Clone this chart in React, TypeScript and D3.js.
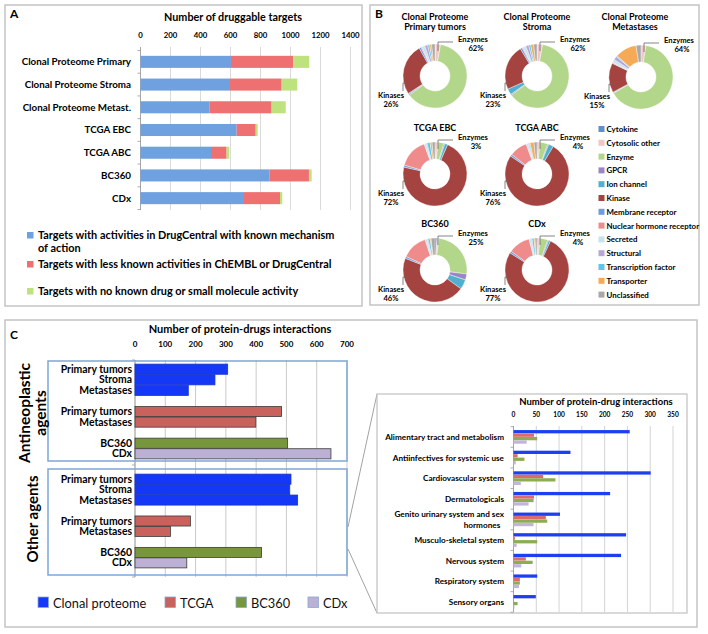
import React from "react";
import * as d3 from "d3";

const FONT = "Lato, 'Open Sans', 'DejaVu Sans', sans-serif";

// ---------- Panel A data ----------
const targetCategories = [
  "Clonal Proteome Primary",
  "Clonal Proteome Stroma",
  "Clonal Proteome Metast.",
  "TCGA EBC",
  "TCGA ABC",
  "BC360",
  "CDx",
];
const knownMechanism = [603, 597, 459, 641, 470, 859, 690];
const lessKnownActivity = [416, 344, 415, 127, 104, 264, 240];
const noKnownActivity = [106, 104, 94, 13, 18, 18, 15];
const targetTicks = [0, 200, 400, 600, 800, 1000, 1200, 1400];
const targetLegend = [
  "Targets with activities in DrugCentral with known mechanism of action",
  "Targets with less known activities in ChEMBL or DrugCentral",
  "Targets with no known drug or small molecule activity",
];

// ---------- Panel B data ----------
const targetClasses = [
  "Cytokine",
  "Cytosolic other",
  "Enzyme",
  "GPCR",
  "Ion channel",
  "Kinase",
  "Membrane receptor",
  "Nuclear hormone receptor",
  "Secreted",
  "Structural",
  "Transcription factor",
  "Transporter",
  "Unclassified",
];
const pieTitles = [
  "Clonal Proteome|Primary tumors",
  "Clonal Proteome|Stroma",
  "Clonal Proteome|Metastases",
  "TCGA EBC",
  "TCGA ABC",
  "BC360",
  "CDx",
];
const pieClonalPrimary = [0.3, 2.5, 62, 0.5, 0.5, 26, 1, 0.5, 1.5, 1.5, 1, 1, 1.7];
const pieClonalStroma = [0.3, 2.5, 62, 0.5, 3, 23, 1, 0.5, 1.5, 1.5, 1, 1.5, 1.7];
const pieClonalMetastases = [0, 2.5, 64, 0.3, 0.3, 15, 0.3, 0.3, 1.5, 1.8, 0.5, 11, 2.5];
const pieTcgaEbc = [0.5, 1, 3, 0.5, 1.5, 72, 1, 15, 1, 0.5, 1.5, 1, 1.5];
const pieTcgaAbc = [0.5, 1, 4, 0.5, 2.5, 76, 1, 9, 1, 0.5, 0.5, 2, 1.5];
const pieBc360 = [1, 1, 25, 3, 5, 46, 1, 13, 1, 0.5, 1, 0.5, 2];
const pieCdx = [0.5, 1, 4, 0.5, 1, 77, 1, 11, 1, 0.5, 1, 0.5, 1];

// ---------- Panel C data ----------
const interactionTicks = [0, 100, 200, 300, 400, 500, 600, 700];
const rowLabels = ["Primary tumors", "Stroma", "Metastases", "", "Primary tumors", "Metastases", "", "BC360", "CDx"];
const rowSources = ["clonal", "clonal", "clonal", "", "tcga", "tcga", "", "bc360", "cdx"];
const antineoplasticValues = [306, 264, 176, 0, 484, 399, 0, 504, 647];
const otherAgentValues = [515, 511, 537, 0, 183, 117, 0, 418, 171];
const sourceNames = ["Clonal proteome", "TCGA", "BC360", "CDx"];

const atcCategories = [
  "Alimentary tract and metabolism",
  "Antiinfectives for systemic use",
  "Cardiovascular system",
  "Dermatologicals",
  "Genito urinary system and sex hormones",
  "Musculo-skeletal system",
  "Nervous system",
  "Respiratory system",
  "Sensory organs",
];
const atcClonal = [255, 125, 301, 212, 102, 247, 236, 52, 49];
const atcTcga = [45, 9, 65, 45, 71, 3, 27, 14, 0];
const atcBc360 = [52, 24, 92, 44, 74, 52, 42, 14, 9];
const atcCdx = [29, 5, 16, 33, 44, 7, 17, 12, 2];
const atcTicks = [0, 50, 100, 150, 200, 250, 300, 350];

// ---------- styles ----------
const aColors = ["#6fa0e0", "#ee7070", "#bde27e"];
const classColors = [
  "#5e8fcf",
  "#f2c6c6",
  "#b3d78a",
  "#9a86c4",
  "#4fb1cf",
  "#a4433f",
  "#6b9de0",
  "#ef8b8b",
  "#c4e3ec",
  "#b7a6d8",
  "#5fc6e6",
  "#f7aa55",
  "#a8a8a8",
];
const sourceFill: Record<string, string> = {
  clonal: "#1438f5",
  tcga: "#c9615c",
  bc360: "#78973c",
  cdx: "#bdb0d5",
};
const sourceStroke: Record<string, string> = {
  clonal: "#1a35c8",
  tcga: "#3c3c3c",
  bc360: "#3c3c3c",
  cdx: "#3c3c3c",
};
const insetFill = ["#1c3ff2", "#dc6b6b", "#8dad52", "#c3b5da"];

function wrap(text: string, max: number): string[] {
  const words = text.split(" ");
  const lines: string[] = [];
  let cur = "";
  for (const w of words) {
    const t = cur ? cur + " " + w : w;
    if (t.length > max && cur) {
      lines.push(cur);
      cur = w;
    } else cur = t;
  }
  if (cur) lines.push(cur);
  return lines;
}

function PanelA() {
  const x = d3.scaleLinear().domain([0, 1400]).range([140.5, 350.5]);
  const y = d3
    .scaleBand<string>()
    .domain(targetCategories)
    .range([50.5, 209.5])
    .paddingInner(0.47)
    .paddingOuter(0.235);
  const rows = targetCategories.map((c, i) => ({
    cat: c,
    known: knownMechanism[i],
    less: lessKnownActivity[i],
    none: noKnownActivity[i],
  }));
  const series = d3.stack<any>().keys(["known", "less", "none"])(rows);
  const step = y.step();
  return (
    <g>
      <rect x={5} y={5} width={357} height={301} fill="white" stroke="#c4c4c4" strokeWidth={1.5} />
      <text x={10} y={18} fontSize={12} fontWeight="bold" fontFamily={FONT}>A</text>
      <text x={233} y={21} textAnchor="middle" fontSize={10.8} fontWeight="bold" fontFamily={FONT}>
        Number of druggable targets
      </text>
      {targetTicks.map((t) => (
        <g key={t}>
          <line x1={x(t)} x2={x(t)} y1={47} y2={210} stroke="#d0d0d0" strokeWidth={0.8} />
          <text x={x(t)} y={38} textAnchor="middle" fontSize={7.8} fontWeight="bold" fontFamily={FONT}>
            {t}
          </text>
        </g>
      ))}
      <line x1={x(0)} x2={x(0)} y1={47} y2={210} stroke="#999" strokeWidth={0.8} />
      {targetCategories.concat([""]).map((c, i) => {
        const yy = 50.5 + i * step;
        return <line key={"tk" + i} x1={x(0) - 3} x2={x(0)} y1={yy} y2={yy} stroke="#999" strokeWidth={0.8} />;
      })}
      {series.map((s, si) =>
        s.map((d, i) => (
          <rect
            key={si + "-" + i}
            x={x(d[0])}
            y={y(targetCategories[i])}
            width={Math.max(0, x(d[1]) - x(d[0]))}
            height={y.bandwidth()}
            fill={aColors[si]}
          />
        ))
      )}
      {targetCategories.map((c) => (
        <text
          key={c}
          x={131}
          y={(y(c) as number) + y.bandwidth() / 2 + 3.4}
          textAnchor="end"
          fontSize={9.8}
          fontWeight="bold"
          fontFamily={FONT}
        >
          {c}
        </text>
      ))}
      {targetLegend.map((l, i) => {
        const lines = wrap(l, 60);
        const y0 = [239, 268, 295][i];
        return (
          <g key={l}>
            <rect x={27} y={y0 - 7} width={6.5} height={6.5} fill={aColors[i]} />
            {lines.map((ln, j) => (
              <text key={j} x={38} y={y0 + j * 12.5} fontSize={10.9} fontWeight="bold" fontFamily={FONT}>
                {ln}
              </text>
            ))}
          </g>
        );
      })}
    </g>
  );
}

function PanelB() {
  const pieData = [
    pieClonalPrimary,
    pieClonalStroma,
    pieClonalMetastases,
    pieTcgaEbc,
    pieTcgaAbc,
    pieBc360,
    pieCdx,
  ];
  const centers = [
    [435, 76],
    [537, 76],
    [641, 77],
    [435, 174],
    [537, 174],
    [435, 270],
    [537, 270],
  ];
  const titleY = [20, 20, 20, 131, 131, 227, 227];
  const pie = d3.pie<number>().sort(null).value((d) => d);
  const arc = d3.arc<d3.PieArcDatum<number>>().innerRadius(15).outerRadius(32);
  const enzIdx = targetClasses.indexOf("Enzyme");
  const kinIdx = targetClasses.indexOf("Kinase");
  return (
    <g>
      <rect x={370} y={5} width={329} height={300} fill="white" stroke="#c4c4c4" strokeWidth={1.5} />
      <text x={375} y={18} fontSize={12} fontWeight="bold" fontFamily={FONT}>B</text>
      {pieData.map((vals, pi) => {
        const [cx, cy] = centers[pi];
        const arcs = pie(vals);
        const total = d3.sum(vals);
        const enz = Math.round((vals[enzIdx] / total) * 100);
        const kin = Math.round((vals[kinIdx] / total) * 100);
        const tl = pieTitles[pi].split("|");
        const tcx = pi === 2 ? 635 : cx;
        return (
          <g key={pi}>
            {tl.map((t, j) => (
              <text
                key={j}
                x={tcx}
                y={titleY[pi] + j * 9.5}
                textAnchor="middle"
                fontSize={9}
                fontWeight="bold"
                fontFamily={FONT}
              >
                {t}
              </text>
            ))}
            <g transform={`translate(${cx},${cy})`}>
              {arcs.map((a, ai) => (
                <path key={ai} d={arc(a) || ""} fill={classColors[ai]} stroke="white" strokeWidth={0.4} />
              ))}
            </g>
            <path
              d={`M${cx + 3},${cy - 25} V${cy - 34} H${cx + 18}`}
              fill="none"
              stroke="#666"
              strokeWidth={0.8}
            />
            <text x={cx + 38} y={cy - 34} textAnchor="middle" fontSize={7.6} fontWeight="bold" fontFamily={FONT}>
              Enzymes
            </text>
            <text x={cx + 41} y={cy - 25} textAnchor="middle" fontSize={7.6} fontWeight="bold" fontFamily={FONT}>
              {enz}%
            </text>
            <path
              d={`M${cx - 28},${cy + 7} H${cx - 32} V${cy + 15}`}
              fill="none"
              stroke="#666"
              strokeWidth={0.8}
            />
            <text x={cx - 44} y={cy + 22} textAnchor="middle" fontSize={7.6} fontWeight="bold" fontFamily={FONT}>
              Kinases
            </text>
            <text x={cx - 44} y={cy + 31} textAnchor="middle" fontSize={7.6} fontWeight="bold" fontFamily={FONT}>
              {kin}%
            </text>
          </g>
        );
      })}
      {targetClasses.map((c, i) => {
        const yy = 129 + i * 13.8;
        return (
          <g key={c}>
            <rect x={598.5} y={yy - 3} width={6} height={6} fill={classColors[i]} />
            <text x={606.5} y={yy + 3} fontSize={7.9} fontWeight="bold" fontFamily={FONT}>
              {c}
            </text>
          </g>
        );
      })}
    </g>
  );
}

function PanelC() {
  const x = d3.scaleLinear().domain([0, 700]).range([135, 347]);
  const keys = rowLabels.map((_, i) => "r" + i);
  const y1 = d3.scaleBand<string>().domain(keys).range([363.7, 459.3]).padding(0.04);
  const y2 = d3.scaleBand<string>().domain(keys).range([473.7, 568.3]).padding(0.04);
  const groups = [
    { values: antineoplasticValues, y: y1 },
    { values: otherAgentValues, y: y2 },
  ];

  const xi = d3.scaleLinear().domain([0, 350]).range([513.5, 673]);
  const yi = d3.scaleBand<string>().domain(atcCategories).range([426.7, 612.3]);
  const inner = d3.scaleBand<number>().domain([0, 1, 2, 3]).range([3.2, 17.2]).padding(0.05);
  const atcSeries = [atcClonal, atcTcga, atcBc360, atcCdx];
  const legendX = [38, 165, 236, 308];
  const legendKeys = ["clonal", "tcga", "bc360", "cdx"];

  return (
    <g>
      <rect x={5} y={320} width={692} height={307} fill="white" stroke="#c4c4c4" strokeWidth={1.5} />
      <text x={10} y={339} fontSize={12} fontWeight="bold" fontFamily={FONT}>C</text>
      <text x={240} y={333} textAnchor="middle" fontSize={11} fontWeight="bold" fontFamily={FONT}>
        Number of protein-drugs interactions
      </text>
      {interactionTicks.map((t) => (
        <g key={t}>
          <line x1={x(t)} x2={x(t)} y1={360} y2={577} stroke="#bdbdbd" strokeWidth={0.8} />
          <text x={x(t)} y={347} textAnchor="middle" fontSize={8} fontWeight="bold" fontFamily={FONT}>
            {t}
          </text>
        </g>
      ))}
      <line x1={x(0)} x2={x(0)} y1={360} y2={577} stroke="#999" strokeWidth={0.8} />
      {[360, 465, 577].map((yy) => (
        <line key={yy} x1={x(0) - 3} x2={x(0)} y1={yy} y2={yy} stroke="#999" strokeWidth={0.8} />
      ))}
      {groups.map((g, gi) => (
        <g key={gi}>
          {g.values.map((v, i) =>
            rowSources[i] ? (
              <rect
                key={i}
                x={x(0)}
                y={g.y(keys[i])}
                width={x(v) - x(0)}
                height={g.y.bandwidth()}
                fill={sourceFill[rowSources[i]]}
                stroke={sourceStroke[rowSources[i]]}
                strokeWidth={0.8}
              />
            ) : null
          )}
          {rowLabels.map((l, i) =>
            l ? (
              <text
                key={"l" + i}
                x={132}
                y={(g.y(keys[i]) as number) + g.y.bandwidth() / 2 + 3.6}
                textAnchor="end"
                fontSize={10.4}
                fontWeight="bold"
                fontFamily={FONT}
              >
                {l}
              </text>
            ) : null
          )}
        </g>
      ))}
      <rect x={48} y={361} width={299} height={100} fill="none" stroke="#7ea7d8" strokeWidth={1.5} />
      <rect x={48} y={469} width={299} height={106} fill="none" stroke="#7ea7d8" strokeWidth={1.5} />
      <g transform="translate(25,413) rotate(-90)">
        <text textAnchor="middle" y={5} fontSize={15.5} fontWeight="bold" fontFamily={FONT}>
          Antineoplastic
        </text>
      </g>
      <g transform="translate(41,413) rotate(-90)">
        <text textAnchor="middle" y={5} fontSize={15.5} fontWeight="bold" fontFamily={FONT}>
          agents
        </text>
      </g>
      <g transform="translate(33,519) rotate(-90)">
        <text textAnchor="middle" y={5} fontSize={15} fontWeight="bold" fontFamily={FONT}>
          Other agents
        </text>
      </g>

      {/* legend */}
      {sourceNames.map((n, i) => (
        <g key={n}>
          <rect
            x={legendX[i]}
            y={597}
            width={10.5}
            height={10.5}
            fill={sourceFill[legendKeys[i]]}
            stroke="#8aa8d0"
            strokeWidth={0.8}
          />
          <text x={legendX[i] + 15} y={607.5} fontSize={12.8} fontFamily={FONT} fill="#111">
            {n}
          </text>
        </g>
      ))}

      {/* zoom lines */}
      <line x1={348} y1={527} x2={377} y2={394} stroke="#8a8a8a" strokeWidth={0.8} />
      <line x1={348} y1={549} x2={377} y2={613} stroke="#8a8a8a" strokeWidth={0.8} />

      {/* inset */}
      <rect x={377} y={394} width={310} height={219} fill="white" stroke="#c0c0c0" strokeWidth={1.2} />
      <text x={596} y={405} textAnchor="middle" fontSize={9.5} fontWeight="bold" fontFamily={FONT}>
        Number of protein-drug interactions
      </text>
      {atcTicks.map((t) => (
        <g key={t}>
          <line x1={xi(t)} x2={xi(t)} y1={426} y2={612} stroke="#c8c8c8" strokeWidth={0.8} />
          <text x={xi(t)} y={417} textAnchor="middle" fontSize={6.6} fontWeight="bold" fontFamily={FONT}>
            {t}
          </text>
        </g>
      ))}
      <line x1={xi(0)} x2={xi(0)} y1={426} y2={612} stroke="#999" strokeWidth={0.8} />
      {atcCategories.concat([""]).map((c, i) => {
        const yy = 426.7 + i * yi.step();
        return <line key={"it" + i} x1={xi(0) - 3} x2={xi(0)} y1={yy} y2={yy} stroke="#999" strokeWidth={0.8} />;
      })}
      {atcCategories.map((c, ci) => (
        <g key={c}>
          {atcSeries.map((s, si) => (
            <rect
              key={si}
              x={xi(0)}
              y={(yi(c) as number) + (inner(si) as number)}
              width={xi(s[ci]) - xi(0)}
              height={inner.bandwidth()}
              fill={insetFill[si]}
            />
          ))}
          {(() => {
            const lines = wrap(c, 32);
            const cy = (yi(c) as number) + yi.bandwidth() / 2;
            return lines.map((ln, j) => (
              <text
                key={j}
                x={j > 0 ? 482 : 504}
                y={cy + 3 + (j - (lines.length - 1) / 2) * 10.5}
                textAnchor={j > 0 ? "middle" : "end"}
                fontSize={8.2}
                fontWeight="bold"
                fontFamily={FONT}
              >
                {ln}
              </text>
            ));
          })()}
        </g>
      ))}
    </g>
  );
}

export default function App() {
  return (
    <svg
      width={708}
      height={634}
      style={{ position: "absolute", left: 0, top: 0, background: "white" }}
      fontFamily={FONT}
    >
      <rect x={0} y={0} width={708} height={634} fill="white" />
      <PanelA />
      <PanelB />
      <PanelC />
    </svg>
  );
}
